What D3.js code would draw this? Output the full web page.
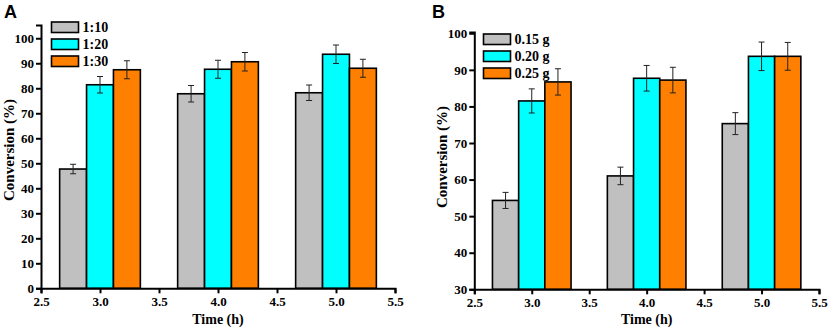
<!DOCTYPE html>
<html><head><meta charset="utf-8">
<script src="https://cdn.jsdelivr.net/npm/d3@7"></script>
<style>body{margin:0;background:#fff}svg{display:block}</style>
</head><body>
<svg id="chart" width="829" height="331"></svg>
<script>
// ---- data ----
const times = [3.0, 4.0, 5.0];
const xTicks = [2.5, 3.0, 3.5, 4.0, 4.5, 5.0, 5.5];

const seriesA = ["1:10", "1:20", "1:30"];
const valuesA_110 = [47.7, 77.8, 78.2];
const valuesA_120 = [81.4, 87.6, 93.6];
const valuesA_130 = [87.4, 90.6, 88.0];
const errA_110 = [1.9, 3.3, 3.1];
const errA_120 = [3.3, 3.6, 3.7];
const errA_130 = [3.6, 3.7, 3.6];
const yTicksA = [0, 10, 20, 30, 40, 50, 60, 70, 80, 90, 100];

const seriesB = ["0.15 g", "0.20 g", "0.25 g"];
const valuesB_015 = [54.3, 61.0, 75.3];
const valuesB_020 = [81.5, 87.7, 93.7];
const valuesB_025 = [86.7, 87.2, 93.7];
const errB_015 = [2.2, 2.4, 3.0];
const errB_020 = [3.3, 3.5, 3.9];
const errB_025 = [3.6, 3.5, 3.8];
const yTicksB = [30, 40, 50, 60, 70, 80, 90, 100];

const colors = ["#c0c0c0", "#00ffff", "#ff8000"];

const svg = d3.select("#chart");

function panel(cfg) {
  const g = svg.append("g");
  const x = d3.scaleLinear().domain([2.5, 5.5]).range([cfg.left, cfg.right]);
  const y = d3.scaleLinear().domain(cfg.yDomain).range([cfg.bottom, cfg.top]);
  const barW = 0.228;
  const offsets = [-barW, 0, barW];

  cfg.values.forEach((vals, si) => {
    vals.forEach((v, i) => {
      const cx = times[i] + offsets[si];
      g.append("rect")
        .attr("x", x(cx - barW / 2))
        .attr("y", y(v))
        .attr("width", x(cx + barW / 2) - x(cx - barW / 2))
        .attr("height", y(cfg.yDomain[0]) - y(v))
        .attr("fill", colors[si])
        .attr("stroke", "#000")
        .attr("stroke-width", 1.6);
    });
  });
  // error bars
  cfg.values.forEach((vals, si) => {
    vals.forEach((v, i) => {
      const cx = x(times[i] + offsets[si]);
      const e = cfg.errs[si][i];
      const eg = g.append("g").attr("stroke", "#222").attr("stroke-width", 1);
      eg.append("line").attr("x1", cx).attr("x2", cx).attr("y1", y(v + e)).attr("y2", y(v - e));
      eg.append("line").attr("x1", cx - 3).attr("x2", cx + 3).attr("y1", y(v + e)).attr("y2", y(v + e));
      eg.append("line").attr("x1", cx - 3).attr("x2", cx + 3).attr("y1", y(v - e)).attr("y2", y(v - e));
    });
  });

  // axes
  const xAxis = d3.axisBottom(x).tickValues(xTicks).tickFormat(d3.format(".1f")).tickSizeOuter(0).tickSize(5).tickPadding(3);
  const gx = g.append("g").attr("transform", `translate(0,${cfg.bottom})`).call(xAxis);
  const yAxis = d3.axisLeft(y).tickValues(cfg.yTicks).tickSizeOuter(0).tickSize(5).tickPadding(2);
  const gy = g.append("g").attr("transform", `translate(${cfg.left},0)`).call(yAxis);
  [gx, gy].forEach(a => {
    a.select(".domain").attr("stroke", "#000").attr("stroke-width", 2);
    a.selectAll(".tick line").attr("stroke", "#000").attr("stroke-width", 2);
    a.selectAll(".tick text").attr("fill", "#000")
      .style("font-family", "'Liberation Serif','Times New Roman',serif")
      .style("font-weight", "bold").style("font-size", "13px");
  });

  // titles
  g.append("text").attr("x", (cfg.left + cfg.right) / 2).attr("y", 324)
    .attr("text-anchor", "middle")
    .style("font-family", "'Liberation Serif','Times New Roman',serif")
    .style("font-weight", "bold").style("font-size", "14px").text("Time (h)");
  g.append("text").attr("transform", `translate(${cfg.yTitleX},${cfg.yTitleY}) rotate(-90)`)
    .attr("text-anchor", "middle")
    .style("font-family", "'Liberation Serif','Times New Roman',serif")
    .style("font-weight", "bold").style("font-size", "15px").text("Conversion (%)");
  g.append("text").attr("x", cfg.labelX).attr("y", 18)
    .style("font-family", "'Liberation Sans',Arial,sans-serif")
    .style("font-weight", "bold").style("font-size", "18px").text(cfg.label);

  // legend
  cfg.series.forEach((s, i) => {
    const ly = cfg.legY + i * 17;
    g.append("rect").attr("x", cfg.legX).attr("y", ly).attr("width", 27).attr("height", 10.5)
      .attr("fill", colors[i]).attr("stroke", "#000").attr("stroke-width", 1.6);
    g.append("text").attr("x", cfg.legX + 31).attr("y", ly + 10)
      .style("font-family", "'Liberation Serif','Times New Roman',serif")
      .style("font-weight", "bold").style("font-size", "14px").text(s);
  });
}

panel({
  left: 41, right: 395, top: 25, bottom: 288.3, yDomain: [0, 105.3], yTicks: yTicksA,
  values: [valuesA_110, valuesA_120, valuesA_130], errs: [errA_110, errA_120, errA_130],
  series: seriesA, legX: 51.5, legY: 22, label: "A", labelX: 4, yTitleX: 13.5, yTitleY: 150
});
panel({
  left: 474.3, right: 819, top: 32, bottom: 289.3, yDomain: [30, 100.35], yTicks: yTicksB,
  values: [valuesB_015, valuesB_020, valuesB_025], errs: [errB_015, errB_020, errB_025],
  series: seriesB, legX: 483.5, legY: 34, label: "B", labelX: 432, yTitleX: 447, yTitleY: 157
});
</script>
</body></html>
